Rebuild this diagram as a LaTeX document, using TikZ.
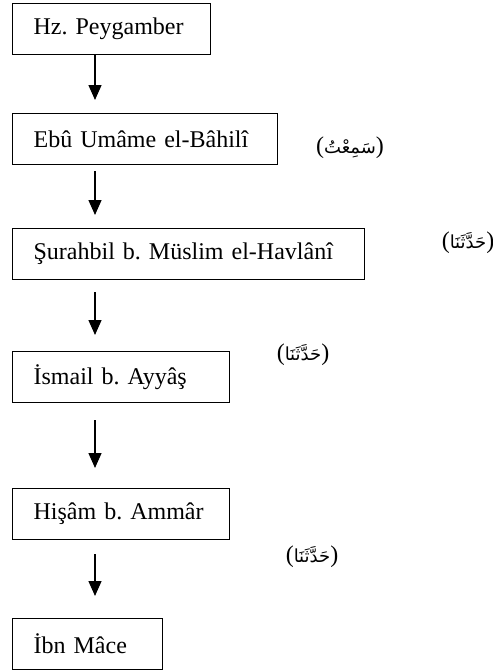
\documentclass[tikz,border=0pt]{standalone}
\usepackage{fontspec}
\usepackage{tikz}
\usetikzlibrary{arrows.meta}
\setmainfont{Liberation Serif}
\newfontfamily\arabicfont[Script=Arabic]{DejaVu Sans}
\TeXXeTstate=1
\frenchspacing
\newcommand{\ravi}{\fontsize{24}{28}\selectfont}
\newcommand{\sigha}[1]{{\ravi(}{\arabicfont\fontsize{18}{22}\selectfont\beginR #1\endR}{\ravi)}}

\begin{document}
\begin{tikzpicture}[x=1pt, y=-1pt,
  isnad/.style={draw, line width=1.3pt, minimum height=51pt, inner xsep=21pt,
    align=left, anchor=north west, font=\ravi},
  sened/.style={-{Triangle[length=15pt,width=13pt]}, line width=1.3pt}]
  \useasboundingbox (0,0) rectangle (493,670);
  % chain of narrators
  \node[isnad, text width=156pt] (peygamber) at (12,3) {Hz. Peygamber};
  \node[isnad, text width=223pt] (ebuumame) at (12,113) {Ebû Umâme el-Bâhilî};
  \node[isnad, text width=310pt] (surahbil) at (12,228) {Şurahbil b. Müslim el-Havlânî};
  \node[isnad, text width=175pt] (ismail) at (12,351) {İsmail b. Ayyâş};
  \node[isnad, text width=175pt] (hisam) at (12,488) {Hişâm b. Ammâr};
  \node[isnad, text width=108pt] (ibnmace) at (12,618) {İbn Mâce};
  % transmission arrows
  \draw[sened, shorten >=13pt]
    ([xshift=83pt]peygamber.south west) -- ([xshift=83pt]ebuumame.north west);
  \draw[sened, shorten <=6pt, shorten >=13pt]
    ([xshift=83pt]ebuumame.south west) -- ([xshift=83pt]surahbil.north west);
  \draw[sened, shorten <=12pt, shorten >=16pt]
    ([xshift=83pt]surahbil.south west) -- ([xshift=83pt]ismail.north west);
  \draw[sened, shorten <=17pt, shorten >=20pt]
    ([xshift=83pt]ismail.south west) -- ([xshift=83pt]hisam.north west);
  \draw[sened, shorten <=14pt, shorten >=22pt]
    ([xshift=83pt]hisam.south west) -- ([xshift=83pt]ibnmace.north west);
  % forms of transmission
  \node (semitu) at (350,148) {\sigha{سَمِعْتُ}};
  \node (haddesena1) at (468,243) {\sigha{حَدَّثَنَا}};
  \node (haddesena2) at (303,355) {\sigha{حَدَّثَنَا}};
  \node (haddesena3) at (312,557) {\sigha{حَدَّثَنَا}};
\end{tikzpicture}
\end{document}
